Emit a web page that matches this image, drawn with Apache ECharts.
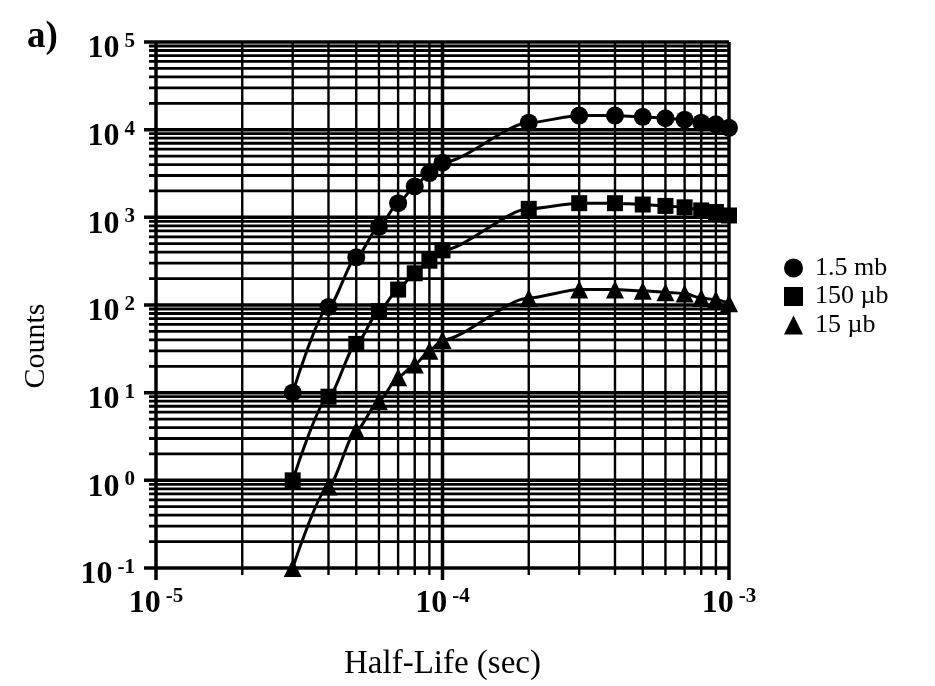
<!DOCTYPE html>
<html>
<head>
<meta charset="utf-8">
<script src="https://cdn.jsdelivr.net/npm/echarts@6/dist/echarts.min.js"></script>
<style>
  html, body { margin: 0; padding: 0; background: #fff; }
  #chart { width: 935px; height: 686px; }
</style>
</head>
<body>
<div id="chart"></div>
<script>
// Half-life values (sec) shared by all three cross sections
const halfLife = [3e-5, 4e-5, 5e-5, 6e-5, 7e-5, 8e-5, 9e-5, 1e-4,
                  2e-4, 3e-4, 4e-4, 5e-4, 6e-4, 7e-4, 8e-4, 9e-4, 1e-3];

// Counts for each cross section
const counts15mb  = [10, 95, 350, 780, 1450, 2250, 3200, 4200,
                     12000, 14500, 14500, 14000, 13500, 13000, 12000, 11500, 10500];
const counts150ub = [1.0, 9, 36, 85, 150, 230, 320, 420,
                     1250, 1450, 1450, 1400, 1350, 1300, 1200, 1150, 1050];
const counts15ub  = [0.1, 0.85, 3.7, 8, 15, 21, 30, 40,
                     120, 150, 150, 145, 140, 135, 120, 115, 105];

const seriesNames   = ['1.5 mb', '150 \u00b5b', '15 \u00b5b'];
const seriesSymbols = ['circle', 'rect', 'triangle'];

// Axis ranges (decade exponents) and log-paper subdivisions
const xDecades = [-5, -4, -3];
const yDecades = [-1, 0, 1, 2, 3, 4, 5];
const minorMultiples = [2, 3, 4, 5, 6, 7, 8, 9];

const X_MIN = Math.pow(10, xDecades[0]);
const X_MAX = Math.pow(10, xDecades[xDecades.length - 1]);
const Y_MIN = Math.pow(10, yDecades[0]);
const Y_MAX = Math.pow(10, yDecades[yDecades.length - 1]);

// Grid-line values: [value, isMajor]
function paperLines(decades) {
  const out = [];
  decades.forEach((d, i) => {
    out.push([Math.pow(10, d), 1]);
    if (i < decades.length - 1) {
      minorMultiples.forEach(k => out.push([k * Math.pow(10, d), 0]));
    }
  });
  return out;
}
const hLines = paperLines(yDecades).map(([v, m]) => [X_MIN, v, m]);
const vLines = paperLines(xDecades).map(([v, m]) => [v, Y_MIN, m]);

const SERIF = '"Liberation Serif", "DejaVu Serif", serif';

function powerLabel(value) {
  const e = Math.round(Math.log10(value));
  return '{b|10}{s|' + (e < 0 ? '-' + (-e) : e) + '}';
}
const labelRich = {
  b: { fontFamily: SERIF, fontSize: 32, fontWeight: 'bold', color: '#000', lineHeight: 34, verticalAlign: 'bottom' },
  s: { fontFamily: SERIF, fontSize: 21, fontWeight: 'bold', color: '#000', lineHeight: 20, verticalAlign: 'top', padding: [0, 0, 0, 5] }
};

const chart = echarts.init(document.getElementById('chart'), null, { renderer: 'canvas' });

const dataSeries = [counts15mb, counts150ub, counts15ub].map((vals, i) => ({
  name: seriesNames[i],
  type: 'line',
  data: halfLife.map((x, j) => [x, vals[j]]),
  symbol: seriesSymbols[i],
  symbolSize: i === 0 ? 18 : (i === 1 ? 16 : 18),
  smooth: 0.25,
  smoothMonotone: 'x',
  itemStyle: { color: '#000' },
  lineStyle: { color: '#000', width: 3 },
  z: 5,
  animation: false
}));

chart.setOption({
  backgroundColor: '#fff',
  animation: false,
  grid: { left: 156, right: 206, top: 42, bottom: 118 },
  xAxis: {
    type: 'log', logBase: 10, min: X_MIN, max: X_MAX,
    axisLine: { show: false }, axisTick: { show: false }, splitLine: { show: false },
    axisLabel: { formatter: powerLabel, rich: labelRich, margin: 18 },
    name: 'Half-Life (sec)', nameLocation: 'middle', nameGap: 80,
    nameTextStyle: { fontFamily: SERIF, fontSize: 33, color: '#000' }
  },
  yAxis: {
    type: 'log', logBase: 10, min: Y_MIN, max: Y_MAX,
    axisLine: { show: false }, axisTick: { show: false }, splitLine: { show: false },
    axisLabel: { formatter: powerLabel, rich: labelRich, margin: 21, padding: [12, 0, 0, 0] }
  },
  legend: {
    orient: 'vertical', left: 779, top: 250,
    itemWidth: 19, itemHeight: 19, itemGap: 2.5,
    textStyle: { fontFamily: SERIF, fontSize: 26, color: '#000', padding: [0, 0, 0, 7] },
    data: seriesNames.map((n, i) => ({ name: n, icon: seriesSymbols[i] }))
  },
  graphic: [
    { type: 'text', left: 27, top: 19,
      style: { text: 'a)', font: 'bold 37px ' + SERIF, fill: '#000' } },
    { type: 'text', x: 36, y: 346, rotation: Math.PI / 2,
      style: { text: 'Counts', font: '30px ' + SERIF, fill: '#000', align: 'center', verticalAlign: 'middle' } }
  ],
  series: [
    {
      type: 'custom', silent: true, z: 1,
      data: hLines,
      renderItem: (params, api) => {
        const v = api.value(1), major = api.value(2);
        const a = api.coord([X_MIN, v]);
        const b = api.coord([X_MAX, v]);
        const t = major ? 12 : 7;
        return { type: 'line', shape: { x1: a[0] - t, y1: a[1], x2: b[0], y2: b[1] },
                 style: { stroke: '#000', lineWidth: major ? 3.5 : 2.8 } };
      }
    },
    {
      type: 'custom', silent: true, z: 1,
      data: vLines,
      renderItem: (params, api) => {
        const v = api.value(0), major = api.value(2);
        const a = api.coord([v, Y_MIN]);
        const b = api.coord([v, Y_MAX]);
        const t = major ? 12 : 7;
        return { type: 'line', shape: { x1: a[0], y1: a[1] + t, x2: b[0], y2: b[1] },
                 style: { stroke: '#000', lineWidth: major ? 3.5 : 2.4 } };
      }
    },
    ...dataSeries
  ]
});
</script>
</body>
</html>
